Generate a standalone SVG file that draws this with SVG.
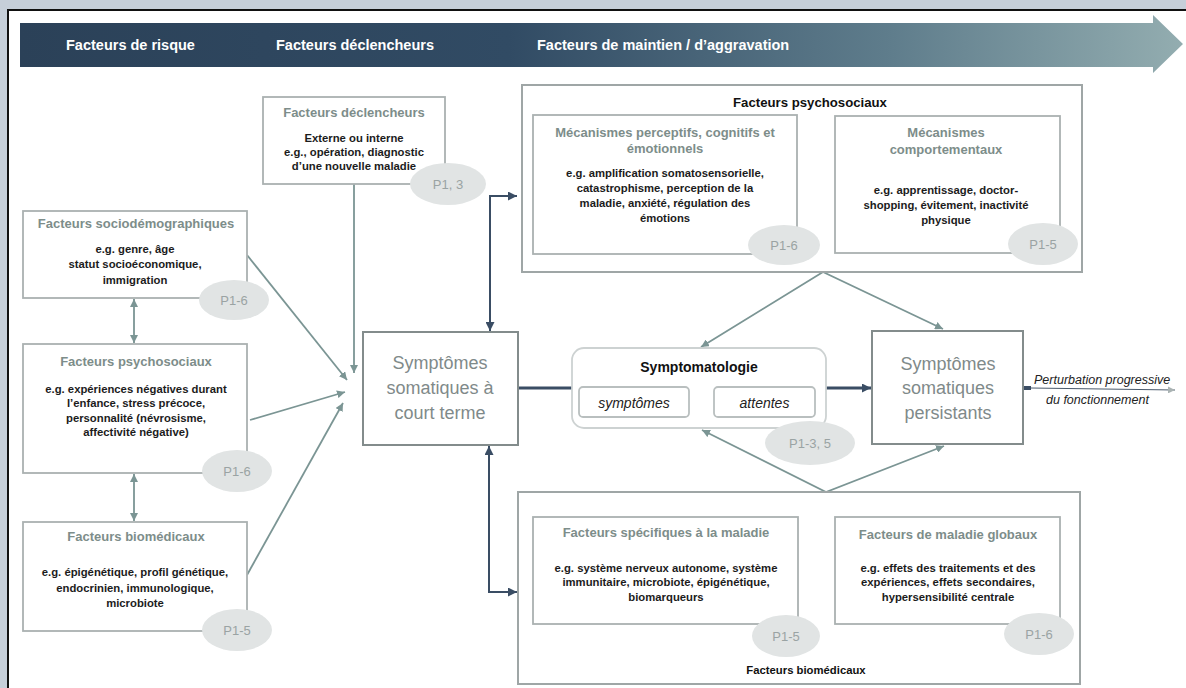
<svg xmlns="http://www.w3.org/2000/svg" width="1186" height="688" viewBox="0 0 1186 688">
<defs>
<linearGradient id="band" gradientUnits="userSpaceOnUse" x1="20" y1="0" x2="1183" y2="0">
<stop offset="0" stop-color="#2b4158"/>
<stop offset="0.42" stop-color="#314b64"/>
<stop offset="0.75" stop-color="#5f7d8c"/>
<stop offset="1" stop-color="#93adb0"/>
</linearGradient>
<marker id="ag" viewBox="0 0 10 10" refX="10" refY="5" markerWidth="8" markerHeight="8" markerUnits="userSpaceOnUse" orient="auto-start-reverse"><path d="M0,0 L10,5 L0,10 z" fill="#7b9594"/></marker>
<marker id="an" viewBox="0 0 10 10" refX="10" refY="5" markerWidth="9" markerHeight="9" markerUnits="userSpaceOnUse" orient="auto-start-reverse"><path d="M0,0 L10,5 L0,10 z" fill="#3a4d64"/></marker>
<marker id="al" viewBox="0 0 10 10" refX="10" refY="5" markerWidth="7" markerHeight="7" markerUnits="userSpaceOnUse" orient="auto-start-reverse"><path d="M0,0 L10,5 L0,10 z" fill="#aab3b3"/></marker>
</defs>
<style>
text{font-family:"Liberation Sans",Arial,sans-serif;text-anchor:middle}
.band{font-size:14.5px;font-weight:bold;fill:#ffffff;text-anchor:start}
.box{fill:#ffffff;stroke:#aab1b1;stroke-width:1.8}
.outer{fill:#ffffff;stroke:#9fa6a6;stroke-width:2}
.main{fill:#ffffff;stroke:#838c8c;stroke-width:2}
.ttl{font-size:13px;font-weight:bold;fill:#7d8d8a}
.body{font-size:11.3px;font-weight:bold;fill:#1c1c1c}
.big{font-size:18px;fill:#7f8a8a}
.hd{font-weight:bold;fill:#111111}
.it{font-style:italic;fill:#222222}
.pe{fill:#e1e4e4}
.pt{font-size:13px;fill:#9aa3a3}
.cg{fill:none;stroke:#7b9594;stroke-width:1.8}
.cn{fill:none;stroke:#3a4d64;stroke-width:2}
</style>
<rect x="0" y="0" width="1186" height="688" fill="#c6cfd9"/>
<rect x="8" y="10" width="1182" height="682" fill="#ffffff" stroke="#111111" stroke-width="2"/>

<g id="banner">
<path d="M20 23 H1153 V15 L1183 44 L1153 73 V67 H20 Z" fill="url(#band)"/>
<text class="band" x="66" y="50">Facteurs de risque</text>
<text class="band" x="276" y="50">Facteurs déclencheurs</text>
<text class="band" x="537" y="50">Facteurs de maintien / d’aggravation</text>
</g>

<g id="connectors">
<line class="cg" x1="354" y1="184" x2="354" y2="373" marker-end="url(#ag)"/>
<line class="cg" x1="247" y1="255" x2="347" y2="380" marker-end="url(#ag)"/>
<line class="cg" x1="250" y1="420" x2="345" y2="392" marker-end="url(#ag)"/>
<line class="cg" x1="247" y1="575" x2="343" y2="403" marker-end="url(#ag)"/>
<line class="cg" x1="134" y1="299" x2="134" y2="343" marker-start="url(#ag)" marker-end="url(#ag)"/>
<line class="cg" x1="134" y1="474" x2="134" y2="521" marker-start="url(#ag)" marker-end="url(#ag)"/>
<line class="cg" x1="798" y1="184" x2="834" y2="184" marker-start="url(#ag)" marker-end="url(#ag)"/>
<line class="cg" x1="799" y1="571" x2="834" y2="571" marker-start="url(#ag)" marker-end="url(#ag)"/>
<polyline class="cg" points="701,347 823,272 943,329" marker-start="url(#ag)" marker-end="url(#ag)"/>
<polyline class="cg" points="702,430 826,492 944,446" marker-start="url(#ag)" marker-end="url(#ag)"/>
<path class="cn" d="M490 331 V196 H517" marker-start="url(#an)" marker-end="url(#an)"/>
<path class="cn" d="M489 446 V592 H517" marker-start="url(#an)" marker-end="url(#an)"/>
<line x1="518" y1="388" x2="572" y2="388" stroke="#3a4d64" stroke-width="3"/>
<line x1="826" y1="388" x2="871" y2="388" stroke="#3a4d64" stroke-width="3" marker-end="url(#an)"/>
<line x1="692" y1="403" x2="713" y2="403" stroke="#aab3b3" stroke-width="1.5" marker-start="url(#al)" marker-end="url(#al)"/>
<line x1="1023" y1="388" x2="1031" y2="388" stroke="#3a4d64" stroke-width="4"/>
<line x1="1031" y1="388" x2="1175" y2="390" stroke="#4a5a6c" stroke-width="1" marker-end="url(#al)"/>
</g>

<g id="declencheurs">
<rect class="box" x="263" y="97" width="182" height="87"/>
<text class="ttl" x="354" y="116.5">Facteurs déclencheurs</text>
<text class="body" x="354" y="142">Externe ou interne</text>
<text class="body" x="354" y="156">e.g., opération, diagnostic</text>
<text class="body" x="354" y="170">d’une nouvelle maladie</text>
<ellipse class="pe" cx="448" cy="184" rx="38" ry="21"/>
<text class="pt" x="448" y="188.5">P1, 3</text>
</g>

<g id="sociodemo">
<rect class="box" x="23" y="211" width="224" height="87"/>
<text class="ttl" x="136" y="227.5">Facteurs sociodémographiques</text>
<text class="body" x="135" y="253">e.g. genre, âge</text>
<text class="body" x="135" y="268">statut socioéconomique,</text>
<text class="body" x="135" y="284">immigration</text>
<ellipse class="pe" cx="234" cy="300" rx="35" ry="20"/>
<text class="pt" x="234" y="304.5">P1-6</text>
</g>

<g id="psychosociaux-risque">
<rect class="box" x="23" y="344" width="224" height="129"/>
<text class="ttl" x="136" y="365.5">Facteurs psychosociaux</text>
<text class="body" x="136" y="393">e.g. expériences négatives durant</text>
<text class="body" x="136" y="407">l’enfance, stress précoce,</text>
<text class="body" x="136" y="422">personnalité (névrosisme,</text>
<text class="body" x="136" y="436">affectivité négative)</text>
<ellipse class="pe" cx="237" cy="471" rx="35" ry="21"/>
<text class="pt" x="237" y="475.5">P1-6</text>
</g>

<g id="biomedicaux-risque">
<rect class="box" x="23" y="522" width="224" height="109"/>
<text class="ttl" x="136" y="540.5">Facteurs biomédicaux</text>
<text class="body" x="135" y="576">e.g. épigénétique, profil génétique,</text>
<text class="body" x="135" y="592">endocrinien, immunologique,</text>
<text class="body" x="135" y="607">microbiote</text>
<ellipse class="pe" cx="237" cy="630" rx="35" ry="21"/>
<text class="pt" x="237" y="634.5">P1-5</text>
</g>

<g id="court-terme">
<rect class="main" x="363" y="332" width="155" height="113"/>
<text class="big" x="440" y="369">Symptômes</text>
<text class="big" x="440" y="394">somatiques à</text>
<text class="big" x="440" y="419">court terme</text>
</g>

<g id="psychosociaux-maintien">
<rect class="outer" x="522" y="85" width="560" height="187"/>
<text class="hd" x="810" y="106.5" font-size="13.2">Facteurs psychosociaux</text>
<g id="mecanismes-cognitifs">
<rect class="box" x="533" y="115" width="264" height="139"/>
<text class="ttl" x="665" y="136.5">Mécanismes perceptifs, cognitifs et</text>
<text class="ttl" x="665" y="152.5">émotionnels</text>
<text class="body" x="665" y="177">e.g. amplification somatosensorielle,</text>
<text class="body" x="665" y="192">catastrophisme, perception de la</text>
<text class="body" x="665" y="207">maladie, anxiété, régulation des</text>
<text class="body" x="665" y="222">émotions</text>
<ellipse class="pe" cx="784" cy="245" rx="36" ry="20"/>
<text class="pt" x="784" y="249.5">P1-6</text>
</g>
<g id="mecanismes-comportementaux">
<rect class="box" x="835" y="116" width="225" height="137"/>
<text class="ttl" x="946" y="136.5">Mécanismes</text>
<text class="ttl" x="946" y="153.5">comportementaux</text>
<text class="body" x="946" y="194">e.g. apprentissage, doctor-</text>
<text class="body" x="946" y="209">shopping, évitement, inactivité</text>
<text class="body" x="946" y="224">physique</text>
<ellipse class="pe" cx="1043" cy="244" rx="35" ry="21"/>
<text class="pt" x="1043" y="248.5">P1-5</text>
</g>
</g>

<g id="symptomatologie">
<rect x="572" y="348" width="254" height="80" rx="12" fill="#ffffff" stroke="#cdd2d2" stroke-width="1.8"/>
<text class="hd" x="699" y="372" font-size="14">Symptomatologie</text>
<rect x="579" y="387" width="110" height="30" rx="4" fill="#ffffff" stroke="#b9bfbf" stroke-width="1.8"/>
<text class="it" x="634" y="408" font-size="14">symptômes</text>
<rect x="714" y="387" width="101" height="30" rx="4" fill="#ffffff" stroke="#b9bfbf" stroke-width="1.8"/>
<text class="it" x="764.5" y="408" font-size="14">attentes</text>
<ellipse class="pe" cx="810" cy="443" rx="45" ry="22"/>
<text class="pt" x="810" y="447.5">P1-3, 5</text>
</g>

<g id="persistants">
<rect class="main" x="872" y="331" width="151" height="113"/>
<text class="big" x="948" y="370">Symptômes</text>
<text class="big" x="948" y="394">somatiques</text>
<text class="big" x="948" y="419">persistants</text>
<text class="it" x="1034" y="384" font-size="12.5" style="text-anchor:start">Perturbation progressive</text>
<text class="it" x="1046" y="404" font-size="12.5" style="text-anchor:start">du fonctionnement</text>
</g>

<g id="biomedicaux-maintien">
<rect class="outer" x="518" y="492" width="562" height="192"/>
<text class="hd" x="806" y="674" font-size="11.3">Facteurs biomédicaux</text>
<g id="specifiques">
<rect class="box" x="533" y="517" width="265" height="107"/>
<text class="ttl" x="666" y="536.5">Facteurs spécifiques à la maladie</text>
<text class="body" x="666" y="572">e.g. système nerveux autonome, système</text>
<text class="body" x="666" y="586">immunitaire, microbiote, épigénétique,</text>
<text class="body" x="666" y="601">biomarqueurs</text>
<ellipse class="pe" cx="786" cy="636" rx="34" ry="21"/>
<text class="pt" x="786" y="640.5">P1-5</text>
</g>
<g id="globaux">
<rect class="box" x="835" y="517" width="225" height="107"/>
<text class="ttl" x="948" y="538.5">Facteurs de maladie globaux</text>
<text class="body" x="948" y="572">e.g. effets des traitements et des</text>
<text class="body" x="948" y="586">expériences, effets secondaires,</text>
<text class="body" x="948" y="601">hypersensibilité centrale</text>
<ellipse class="pe" cx="1039" cy="634" rx="35" ry="21"/>
<text class="pt" x="1039" y="638.5">P1-6</text>
</g>
</g>
</svg>
